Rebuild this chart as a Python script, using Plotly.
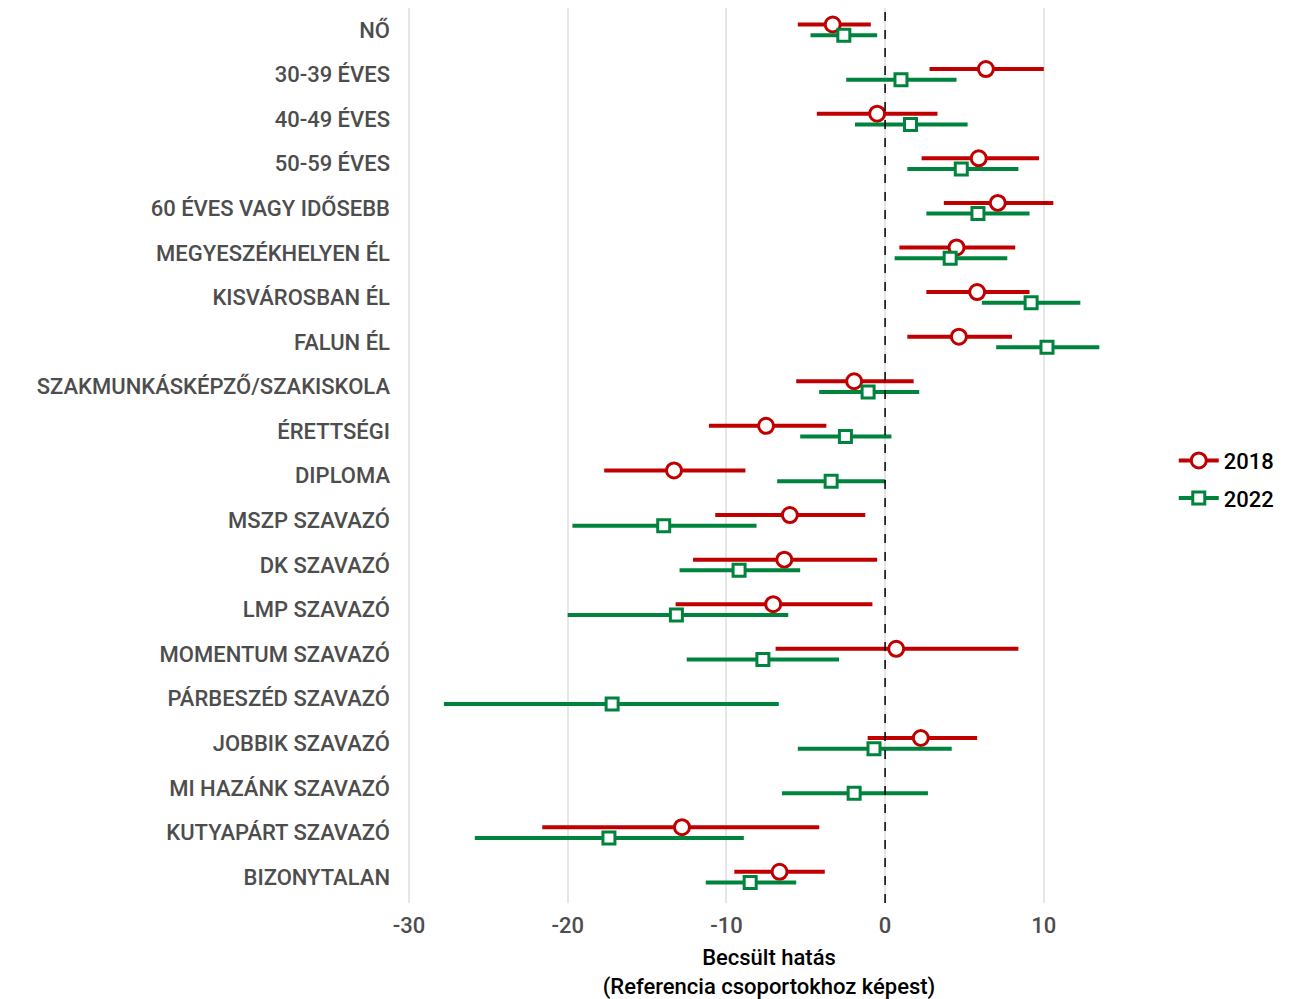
import plotly.graph_objects as go

categories = ["NŐ", "30-39 ÉVES", "40-49 ÉVES", "50-59 ÉVES", "60 ÉVES VAGY IDŐSEBB",
              "MEGYESZÉKHELYEN ÉL", "KISVÁROSBAN ÉL", "FALUN ÉL",
              "SZAKMUNKÁSKÉPZŐ/SZAKISKOLA", "ÉRETTSÉGI", "DIPLOMA",
              "MSZP SZAVAZÓ", "DK SZAVAZÓ", "LMP SZAVAZÓ", "MOMENTUM SZAVAZÓ",
              "PÁRBESZÉD SZAVAZÓ", "JOBBIK SZAVAZÓ", "MI HAZÁNK SZAVAZÓ",
              "KUTYAPÁRT SZAVAZÓ", "BIZONYTALAN"]

est_2018 = [-3.3, 6.35, -0.5, 5.9, 7.1, 4.5, 5.8, 4.65, -1.95, -7.5, -13.3,
            -6.0, -6.35, -7.05, 0.7, None, 2.25, None, -12.8, -6.65]
low_2018 = [-5.5, 2.8, -4.3, 2.3, 3.7, 0.9, 2.6, 1.4, -5.6, -11.1, -17.7,
            -10.7, -12.1, -13.2, -6.9, None, -1.1, None, -21.6, -9.5]
high_2018 = [-0.9, 10.0, 3.3, 9.7, 10.6, 8.2, 9.1, 8.0, 1.8, -3.7, -8.8,
             -1.25, -0.5, -0.8, 8.4, None, 5.8, None, -4.15, -3.8]

est_2022 = [-2.6, 1.0, 1.6, 4.8, 5.85, 4.1, 9.2, 10.2, -1.07, -2.5, -3.4,
            -13.95, -9.2, -13.15, -7.7, -17.2, -0.7, -1.95, -17.4, -8.5]
low_2022 = [-4.7, -2.45, -1.9, 1.4, 2.6, 0.6, 6.1, 7.0, -4.15, -5.35, -6.8,
            -19.7, -12.95, -20.0, -12.5, -27.8, -5.5, -6.5, -25.85, -11.3]
high_2022 = [-0.5, 4.5, 5.2, 8.4, 9.1, 7.7, 12.3, 13.5, 2.15, 0.4, 0.0,
             -8.1, -5.35, -6.1, -2.9, -6.7, 4.2, 2.7, -8.9, -5.6]

x_ticks = [-30, -20, -10, 0, 10]
x_tick_labels = ["-30", "-20", "-10", "0", "10"]

years = ["2018", "2022"]
colors = {"2018": "#C00000", "2022": "#00843D"}
symbols = {"2018": "circle", "2022": "square"}
sizes = {"2018": 15, "2022": 12}
offsets = {"2018": -0.12, "2022": 0.12}
data = {"2018": (est_2018, low_2018, high_2018), "2022": (est_2022, low_2022, high_2022)}

FONT = "Roboto"
fig = go.Figure()

for yr in years:
    est, lo, hi = data[yr]
    xs, ys, plus, minus = [], [], [], []
    for i, (e, l, h) in enumerate(zip(est, lo, hi)):
        if e is None:
            continue
        xs.append(e)
        ys.append(i + offsets[yr])
        plus.append(h - e)
        minus.append(e - l)
    fig.add_trace(go.Scatter(
        x=xs, y=ys, mode="markers", showlegend=False, legendgroup=yr,
        marker=dict(symbol=symbols[yr], size=sizes[yr], color="white",
                    line=dict(color=colors[yr], width=3)),
        error_x=dict(type="data", symmetric=False, array=plus, arrayminus=minus,
                     color=colors[yr], thickness=4, width=0),
    ))
    fig.add_trace(go.Scatter(
        x=[None], y=[None], mode="lines+markers", name=yr, legendgroup=yr,
        line=dict(color=colors[yr], width=4),
        marker=dict(symbol=symbols[yr], size=sizes[yr], color="white",
                    line=dict(color=colors[yr], width=3)),
    ))

fig.add_shape(type="line", x0=0, x1=0, xref="x", y0=0, y1=1, yref="paper",
              line=dict(color="black", width=1.5, dash="dash"), layer="above")

fig.update_layout(
    width=1295, height=999,
    paper_bgcolor="white", plot_bgcolor="white",
    margin=dict(l=397, r=170, t=0, b=104, autoexpand=False),
    font=dict(family=FONT, size=22, color="#4d4d4d", weight=500),
    legend=dict(x=1.056, y=0.473, xanchor="left", yanchor="middle",
                font=dict(family=FONT, size=22, color="black", weight=500),
                itemwidth=40, tracegroupgap=6),
    xaxis=dict(range=[-30.25, 15.62], tickvals=x_ticks, ticktext=x_tick_labels,
               showgrid=True, gridcolor="#e6e6e6", gridwidth=2,
               zeroline=False, ticks="", showline=False, automargin=False,
               ticklabelstandoff=7,
               tickfont=dict(family=FONT, size=22, color="#4d4d4d", weight=500),
               title=dict(text="Becsült hatás<br>(Referencia csoportokhoz képest)",
                          font=dict(family=FONT, size=22, color="black", weight=500), standoff=12)),
    yaxis=dict(range=[19.58, -0.49], tickvals=list(range(len(categories))),
               ticktext=categories, showgrid=False, zeroline=False, ticks="", automargin=False,
               tickfont=dict(family=FONT, size=22, color="#4d4d4d", weight=500), ticklabelstandoff=14),
)

fig.write_html("out.html")
